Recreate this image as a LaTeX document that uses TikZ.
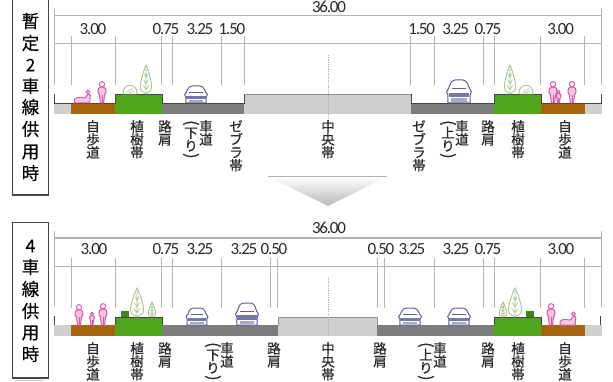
\documentclass[tikz,border=0pt]{standalone}
\usepackage{fontspec}
\usepackage{graphicx}
\setmainfont{Carlito}[LetterSpace=-7]
\newfontfamily\jpfont{Noto Sans CJK JP}[FakeBold=0.25]
\newfontfamily\jplabfont{Noto Sans CJK JP}[FakeBold=0.5]
\definecolor{dimgray}{HTML}{B4B4B4}
\definecolor{roadgray}{HTML}{7C7C7C}
\definecolor{medgray}{HTML}{CFCFCF}
\definecolor{walkbrown}{HTML}{A8640F}
\definecolor{plantgreen}{HTML}{4FA51C}
\definecolor{treeline}{HTML}{A9C48F}
\definecolor{carblue}{HTML}{5F5F98}
\definecolor{manpink}{HTML}{D957A6}
\definecolor{darkline}{HTML}{454545}
\definecolor{inktext}{HTML}{2A2A2A}
\tikzset{
  x=1pt,y=-1pt,
  dimline/.style={draw=dimgray,line width=1pt},
  surface/.style={draw=none},
  topedge/.style={draw=darkline,line width=0.9pt},
  numlab/.style={font=\fontsize{17}{17}\selectfont,text=inktext,inner sep=0pt},
  vlab/.style={font=\jplabfont\fontsize{13.5}{13}\selectfont,text=inktext,inner sep=0pt,align=center,anchor=north},
  sidebox/.style={draw=darkline,line width=1.5pt,fill=white},
  sidelab/.style={font=\jpfont\fontsize{17.5}{17.5}\selectfont,text=black,inner sep=0pt},
}
\newcommand{\vo}{\rotatebox[origin=c]{-90}{\fontsize{16}{16}\selectfont (}}
\newcommand{\vc}{\rotatebox[origin=c]{-90}{\fontsize{16}{16}\selectfont )}}
% car: centre x, base y, half width, height
\newcommand{\carfig}[4]{%
  \begin{scope}[shift={(#1,#2)},xscale=#3,yscale=#4]
    \draw[carblue,line width=1pt,fill=white]
      (-0.85,0) -- (-0.85,-0.35) -- (-0.95,-0.5) .. controls (-0.7,-0.62) and (-0.75,-1) .. (-0.3,-1)
      -- (0.3,-1) .. controls (0.75,-1) and (0.7,-0.62) .. (0.95,-0.5) -- (0.85,-0.35) -- (0.85,0) -- cycle;
    \fill[carblue!85] (-0.8,-0.44) rectangle (0.8,-0.24);
    \fill[carblue!55] (-0.6,-0.2) rectangle (0.6,-0.06);
    \draw[carblue,line width=0.7pt] (-0.55,-0.62) -- (0.55,-0.62);
  \end{scope}}
% tree: centre x, base y, half width, height
\newcommand{\treefig}[4]{%
  \begin{scope}[shift={(#1,#2)},xscale=#3,yscale=#4]
    \draw[treeline,line width=0.9pt,fill=white]
      (0,-1) .. controls (0.5,-0.75) and (1.2,-0.3) .. (0.8,-0.12) -- (0,0)
      -- (-0.8,-0.12) .. controls (-1.2,-0.3) and (-0.5,-0.75) .. (0,-1) -- cycle;
    \draw[treeline,line width=0.6pt] (0,-0.9) -- (0,0)
      (-0.5,-0.3) -- (0,-0.15) -- (0.5,-0.3) (-0.4,-0.5) -- (0,-0.35) -- (0.4,-0.5)
      (-0.25,-0.7) -- (0,-0.55) -- (0.25,-0.7);
  \end{scope}}
% bush: centre x, base y, half width, height
\newcommand{\bushfig}[4]{%
  \begin{scope}[shift={(#1,#2)},xscale=#3,yscale=#4]
    \draw[treeline,line width=0.9pt,fill=white]
      (-1,0) .. controls (-1.1,-1.3) and (1.1,-1.3) .. (1,0) -- cycle;
    \draw[treeline,line width=0.6pt] (-0.4,-0.25) -- (0.4,-0.6) (-0.2,-0.1) -- (0.6,-0.35);
  \end{scope}}
% person: centre x, base y, height
\newcommand{\manfig}[3]{%
  \begin{scope}[shift={(#1,#2)},scale=#3]
    \draw[manpink,line width=1pt,fill=manpink!35]
      (-0.08,-0.72) .. controls (-0.22,-0.7) and (-0.2,-0.4) .. (-0.12,-0.38)
      -- (-0.07,0) -- (0.07,0) -- (0.12,-0.38) .. controls (0.2,-0.4) and (0.22,-0.7) .. (0.08,-0.72) -- cycle;
    \draw[manpink,line width=1pt,fill=white] (0,-0.85) circle[radius=0.12];
    \draw[manpink,line width=1pt] (0,-0.38) -- (0,0);
  \end{scope}}
% seated figure: centre x, base y, scale
\newcommand{\sitfig}[3]{%
  \begin{scope}[shift={(#1,#2)},scale=#3]
    \draw[manpink,line width=1pt,fill=manpink!30]
      (-0.6,0) -- (-0.6,-0.3) .. controls (-0.3,-0.55) and (0,-0.35) .. (0.2,-0.4)
      -- (0.45,-0.7) -- (0.6,-0.6) -- (0.55,0) -- cycle;
    \draw[manpink,line width=1pt,fill=white] (0.42,-0.85) circle[radius=0.14];
  \end{scope}}
\begin{document}
\begin{tikzpicture}
\useasboundingbox (0,0) rectangle (613,382);
\fill[white] (0,0) rectangle (613,382);

% ---------- side boxes
\draw[sidebox] (12.5,-3) rectangle (48.5,195);
\draw[sidebox] (12.5,222.5) rectangle (48.5,378);
\draw[medgray,line width=1.5pt] (15,380.5) -- (44,380.5);
\foreach \n/\t/\y in {a/暫/21,b/定/43,c/2/65,d/車/86,e/線/107,f/供/129,g/用/152,h/時/173}
  \node[sidelab] (s\n) at (30.5,\y) {\t};
\foreach \n/\t/\y in {a/4/246,b/車/267,c/線/289,d/供/311,e/用/333,f/時/354}
  \node[sidelab] (t\n) at (30.5,\y) {\t};

% ---------- arrow
\shade[top color=white,bottom color=black!28,draw=none] (268,176.5) -- (387,176.5) -- (328,206) -- cycle;
\draw[black!30,line width=0.9pt] (268,176.5) -- (387,176.5);

% ---------- upper section: dimension lines
\draw[dimline] (54,16) -- (601,16);
\draw[dimline] (54,44) -- (601,44);
\draw[dimline] (54,8) -- (54,85);
\draw[dimline] (601,8) -- (601,85);
\foreach \x in {71,115,161,172.5,221.5,244,410.7,434,483,494,540,584}
  \draw[dimline] (\x,36) -- (\x,85.5);
\draw[dimgray,line width=0.8pt,densely dotted] (328,55) -- (328,120);

% upper section: surfaces
\fill[medgray] (54,103) rectangle (71,114);
\fill[walkbrown] (71,103) rectangle (115,114);
\fill[plantgreen] (115,94.5) rectangle (162,114);
\fill[roadgray] (162,103) rectangle (244,114);
\fill[medgray] (244,94.5) rectangle (411,114);
\fill[roadgray] (411,103) rectangle (494,114);
\fill[plantgreen] (494,94.5) rectangle (541,114);
\fill[walkbrown] (541,103) rectangle (585,114);
\fill[medgray] (585,103) rectangle (602,114);
\draw[topedge] (54,94) -- (54,103) -- (115,103) -- (115,94.5) -- (162,94.5) -- (162,103) -- (244,103) -- (244,94.5);
\draw[topedge,draw=black!45] (244,94.5) -- (411,94.5);
\draw[topedge] (411,94.5) -- (411,103) -- (494,103) -- (494,94.5) -- (541,94.5) -- (541,103) -- (601,103) -- (601,94);
\draw[dimgray,line width=0.8pt,densely dotted] (328,95) -- (328,114);

% upper section: figures
\sitfig{82.5}{103}{13}
\manfig{102}{103}{22}
\bushfig{130}{94}{7}{9}
\treefig{146}{94}{6}{29}
\carfig{196}{103}{12}{17}
\carfig{459}{103}{13}{23}
\treefig{510}{94}{6}{29}
\bushfig{526}{94}{7}{9}
\manfig{553}{103}{22}
\manfig{558.5}{103}{13}
\manfig{572}{103}{22}

% upper section: numbers
\node[numlab] (u0) at (329,6.5) {36.00};
\foreach \n/\x/\t in {1/93/3.00,2/166/0.75,3/200/3.25,4/232/1.50,5/421.7/1.50,6/455.7/3.25,7/488/0.75,8/560.7/3.00}
  \node[numlab] (u\n) at (\x,29) {\t};

% upper section: labels
\node[vlab] (ua) at (93,120) {自\\歩\\道};
\node[vlab] (ub) at (137,120) {植\\樹\\帯};
\node[vlab] (uc) at (165,120) {路\\肩};
\node[vlab] (ud) at (206,120) {車\\道};
\node[vlab] (ue) at (191,120) {\vo\\[-3pt]下\\り\\[-3pt]\vc};
\node[vlab] (uf) at (236,120) {ゼ\\ブ\\ラ\\帯};
\node[vlab] (ug) at (328,120) {中\\央\\帯};
\node[vlab] (uh) at (419,120) {ゼ\\ブ\\ラ\\帯};
\node[vlab] (ui) at (462,120) {車\\道};
\node[vlab] (uj) at (448,120) {\vo\\[-3pt]上\\り\\[-3pt]\vc};
\node[vlab] (uk) at (488,120) {路\\肩};
\node[vlab] (ul) at (518,120) {植\\樹\\帯};
\node[vlab] (um) at (565,120) {自\\歩\\道};

% ---------- lower section: dimension lines
\draw[dimline] (54,238) -- (601,238);
\draw[dimline] (54,266) -- (601,266);
\draw[dimline] (54,231) -- (54,307);
\draw[dimline] (601,231) -- (601,307);
\foreach \x in {71,115,161,172.5,221.5,270,277,377,384.5,434,483,494,540,584}
  \draw[dimline] (\x,258) -- (\x,307.5);
\draw[dimgray,line width=0.8pt,densely dotted] (328,277) -- (328,336);

% lower section: surfaces
\fill[medgray] (54,325) rectangle (71,336);
\fill[walkbrown] (71,325) rectangle (115,336);
\fill[plantgreen] (115,317) rectangle (162,336);
\fill[roadgray] (162,325) rectangle (278,336);
\fill[medgray] (278,317) rectangle (377,336);
\fill[roadgray] (377,325) rectangle (494,336);
\fill[plantgreen] (494,317) rectangle (541,336);
\fill[walkbrown] (541,325) rectangle (585,336);
\fill[medgray] (585,325) rectangle (602,336);
\draw[topedge] (115,325) -- (115,317) -- (162,317) -- (162,325);
\draw[topedge] (494,325) -- (494,317) -- (541,317) -- (541,325);
\draw[topedge,draw=black!45] (278,325) -- (278,317) -- (377,317) -- (377,325);
\draw[topedge] (54,316) -- (54,325);
\draw[topedge] (600.5,316) -- (600.5,325);
\draw[dimgray,line width=0.8pt,densely dotted] (328,317) -- (328,336);

% lower section: figures
\manfig{79}{325}{21}
\manfig{92}{325}{13}
\manfig{103}{325}{22}
\fill[plantgreen!80!black] (121,311) rectangle (129,317);
\treefig{137}{317}{7}{29}
\treefig{152}{317}{4}{15}
\carfig{197}{325}{11.5}{17}
\carfig{247}{325}{12}{22}
\carfig{410}{325}{12}{17}
\carfig{459}{325}{12}{17}
\treefig{503}{317}{4}{15}
\treefig{515}{317}{7}{29}
\fill[plantgreen!80!black] (526,311) rectangle (534,317);
\manfig{551}{325}{22}
\sitfig{568}{325}{13}

% lower section: numbers
\node[numlab] (l0) at (329,228) {36.00};
\foreach \n/\x/\t in {1/94/3.00,2/166/0.75,3/200/3.25,4/244/3.25,5/274/0.50,6/381/0.50,7/412/3.25,8/456/3.25,9/488/0.75,10/561/3.00}
  \node[numlab] (l\n) at (\x,249) {\t};

% lower section: labels
\node[vlab] (la) at (93,342) {自\\歩\\道};
\node[vlab] (lb) at (137,342) {植\\樹\\帯};
\node[vlab] (lc) at (165,342) {路\\肩};
\node[vlab] (ld) at (227,342) {車\\道};
\node[vlab] (le) at (213,342) {\vo\\[-3pt]下\\り\\[-3pt]\vc};
\node[vlab] (lf) at (274,342) {路\\肩};
\node[vlab] (lg) at (328,342) {中\\央\\帯};
\node[vlab] (lh) at (380,342) {路\\肩};
\node[vlab] (li) at (440,342) {車\\道};
\node[vlab] (lj) at (426,342) {\vo\\[-3pt]上\\り\\[-3pt]\vc};
\node[vlab] (lk) at (488,342) {路\\肩};
\node[vlab] (ll) at (518,342) {植\\樹\\帯};
\node[vlab] (lm) at (565,342) {自\\歩\\道};
\end{tikzpicture}
\end{document}
